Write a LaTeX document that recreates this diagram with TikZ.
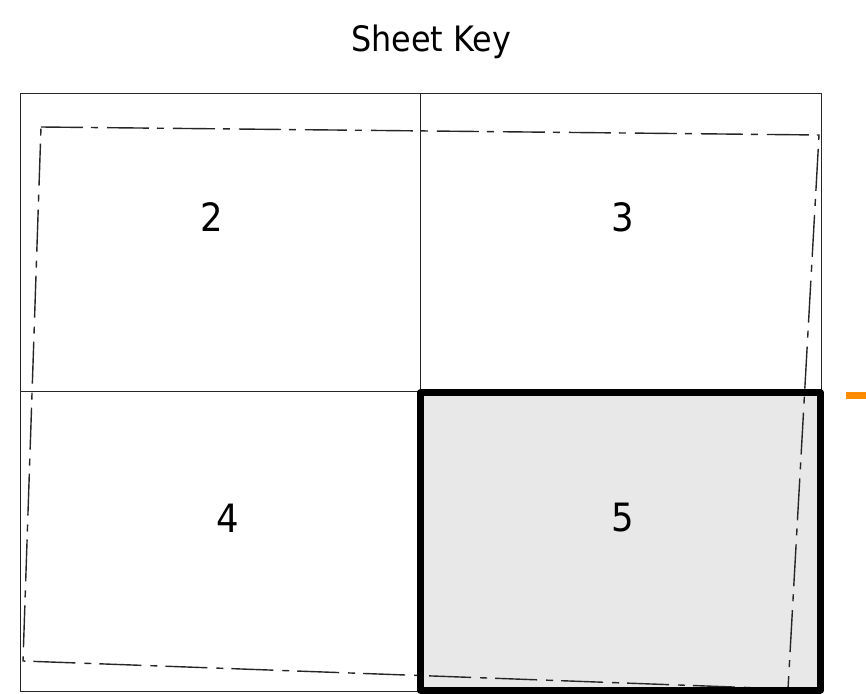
\documentclass[tikz,border=0pt]{standalone}
\usepackage{fontspec}
\setmainfont{DejaVu Sans}
\begin{document}
\begin{tikzpicture}[x=1pt,y=-1pt,
  gridline/.style={draw=black!85,line width=1pt},
  outline/.style={draw=black!85,line width=1.4pt,dash pattern=on 42pt off 8pt on 7pt off 9pt},
  selected/.style={draw=black,line width=7pt,line join=round},
  sheetnum/.style={font=\fontsize{39}{39}\selectfont,text=black,inner sep=0pt},
  marker/.style={fill=orange!90!yellow,draw=none}]
\useasboundingbox (0,0) rectangle (866,693);
\node[font=\fontsize{35}{35}\selectfont,anchor=base,inner sep=0pt] (title) at (431,51.7) {\scalebox{0.91}[1]{Sheet Key}};
% grid
\draw[gridline] (20,93) rectangle (821,691);
\draw[gridline] (420,93) -- (420,691);
\draw[gridline] (20,391.5) -- (821,391.5);
% selected sheet fill
\fill[black!9] (420.5,392.7) rectangle (820.5,690);
% dash-dot outline
\draw[outline] (41,127) -- (819,135) -- (788,689) -- (23,661) -- cycle;
% selected border
\draw[selected] (420.5,392.7) rectangle (820.5,690);
% marker
\fill[marker] (846,392) rectangle (866,399);
% numbers
\node[sheetnum] (n2) at (211.7,217.5) {\scalebox{0.91}[1]{2}};
\node[sheetnum] (n3) at (622.5,217.5) {\scalebox{0.91}[1]{3}};
\node[sheetnum] (n4) at (228,518) {\scalebox{0.91}[1]{4}};
\node[sheetnum] (n5) at (623,518) {\scalebox{0.91}[1]{5}};
\end{tikzpicture}
\end{document}
